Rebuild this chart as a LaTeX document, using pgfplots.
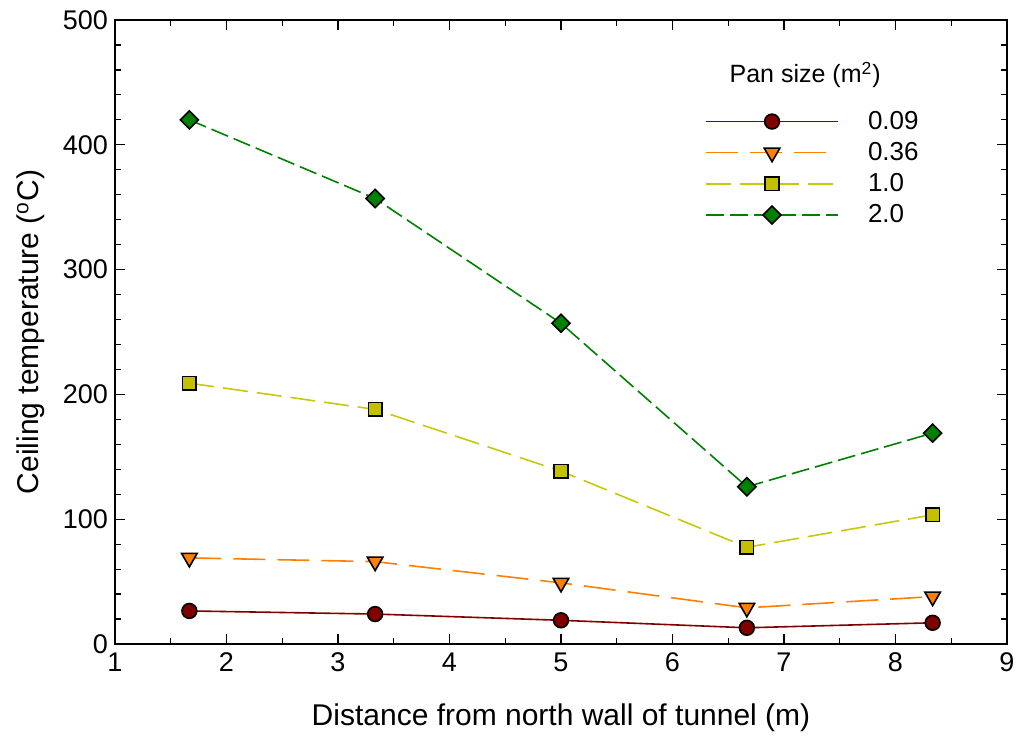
\documentclass[border=0pt]{standalone}
\usepackage{pgfplots}
\pgfplotsset{compat=1.18}
\usepackage{fontspec}
\setmainfont{Liberation Sans}

\definecolor{cDarkRed}{RGB}{128,0,0}
\definecolor{cOrange}{RGB}{255,128,0}
\definecolor{cOliveLine}{RGB}{200,200,10}
\definecolor{cOliveFill}{RGB}{196,192,0}
\definecolor{cGreen}{RGB}{0,128,0}

\begin{document}
\begin{tikzpicture}
\useasboundingbox (-57.5pt,-48pt) rectangle (450.5pt,322pt);
\begin{axis}[
  at={(0,0)}, anchor=south west,
  scale only axis, width=446pt, height=312pt,
  xmin=1, xmax=9, ymin=0, ymax=500,
  xtick={1,...,9}, ytick={0,100,...,500},
  minor x tick num=1, minor y tick num=4,
  tick align=inside,
  major tick length=5pt, minor tick length=3pt,
  every tick/.style={black, line width=0.6pt},
  axis line style={line width=1pt},
  /pgf/number format/assume math mode=true,
  ticklabel style={font=\fontsize{13.5}{16}\selectfont},
  xticklabel style={yshift=-1pt},
  label style={font=\fontsize{15}{18}\selectfont},
  xlabel={Distance from north wall of tunnel (m)},
  ylabel={Ceiling temperature (\textsuperscript{o}C)},
  xlabel style={at={(axis description cs:0.5,-0.1186)}, anchor=center},
  ylabel style={at={(axis description cs:-0.094,0.5)}, anchor=center},
  legend cell align=left,
  legend style={at={(axis cs:6.29,430)}, anchor=north west, draw=none, fill=none,
    inner sep=0pt, font=\fontsize{13}{15}\selectfont, row sep=1.8pt,
    nodes={inner sep=1.6pt}},
  legend image code/.code={%
    \draw[mark repeat=2,mark phase=2] plot coordinates {(0pt,0pt)(33pt,0pt)(66pt,0pt)};},
  legend entries={\hspace{13pt}0.09, \hspace{13pt}0.36, \hspace{13pt}1.0, \hspace{13pt}2.0},
]
% 0.09 m^2 pan
\addplot[color=cDarkRed, line width=0.8pt, mark=*, mark size=3.7pt,
  mark options={solid, fill=cDarkRed, draw=black, line width=0.8pt}]
  coordinates {(1.667,26.5) (3.333,24) (5,19) (6.667,13) (8.333,17)};
% 0.36 m^2 pan
\addplot[color=cOrange, line width=0.8pt, dash pattern=on 16pt off 6pt,
  mark=triangle*, mark size=4.5pt,
  mark options={solid, rotate=180, fill=cOrange, draw=black, line width=0.8pt}]
  coordinates {(1.667,69) (3.333,66) (5,49) (6.667,29) (8.333,38)};
% 1.0 m^2 pan
\addplot[color=cOliveLine, line width=0.8pt, dash pattern=on 12.5pt off 4.5pt,
  mark=square*, mark size=3.4pt,
  mark options={solid, fill=cOliveFill, draw=black, line width=0.8pt}]
  coordinates {(1.667,209) (3.333,188) (5,138.5) (6.667,77.5) (8.333,103.5)};
% 2.0 m^2 pan
\addplot[color=cGreen, line width=0.8pt, dash pattern=on 9pt off 3pt,
  mark=square*, mark size=3.2pt,
  mark options={solid, rotate=45, fill=cGreen, draw=black, line width=0.8pt}]
  coordinates {(1.667,420) (3.333,357) (5,257) (6.667,126) (8.333,169)};
\node[font=\fontsize{12.5}{15}\selectfont] at (axis cs:7.19,456) {Pan size (m\textsuperscript{2})};
\end{axis}
\end{tikzpicture}
\end{document}
